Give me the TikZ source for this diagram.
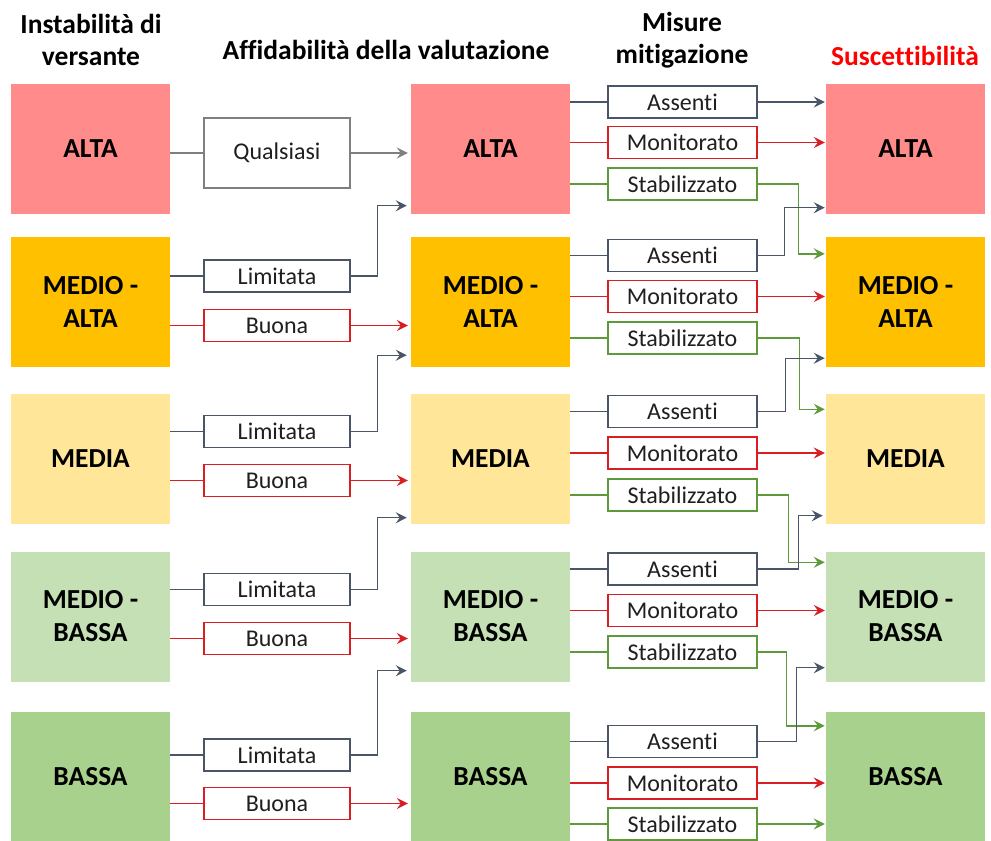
\documentclass[tikz,border=0pt]{standalone}
\usepackage{fontspec}
\setmainfont{Carlito}[Ligatures=NoCommon]
\usetikzlibrary{arrows.meta,calc}
\definecolor{cAlta}{HTML}{FF8B8B}
\definecolor{cMA}{HTML}{FFC000}
\definecolor{cMed}{HTML}{FFE699}
\definecolor{cMB}{HTML}{C5E0B4}
\definecolor{cBas}{HTML}{A9D18E}
\definecolor{cGray}{HTML}{7F7F7F}
\definecolor{cSlate}{HTML}{4A5568}
\definecolor{cRed}{HTML}{D81E24}
\definecolor{cGreen}{HTML}{5E9A3C}
\definecolor{cHead}{HTML}{FF0000}
\begin{document}
\begin{tikzpicture}[x=1pt,y=-1pt,
  big/.style={rectangle, minimum width=159pt, minimum height=130pt, inner sep=0pt, align=center, font=\fontsize{27.5}{33}\selectfont\bfseries},
  lab/.style={rectangle, draw, line width=1.3pt, fill=white, minimum width=146pt, minimum height=32pt, inner sep=0pt, text=black!88, font=\fontsize{24}{28}\selectfont},
  mit/.style={lab, minimum width=149pt},
  con/.style={line width=1.4pt},
  arr/.style={con, -{Stealth[length=11pt,width=11pt,inset=4pt]}},
  hdr/.style={align=center, font=\fontsize{27.5}{32}\selectfont\bfseries},
]
\useasboundingbox (0,0) rectangle (991,841);

% headers
\node[hdr] (h1) at (91,40) {Instabilità di\\versante};
\node[hdr] (h2) at (386,50) {Affidabilità della valutazione};
\node[hdr] (h3) at (682,40) {Misure\\mitigazione};
\node[hdr, text=cHead] (h4) at (905,56) {Suscet\kern0pt tibilità};

% column 1
\node[big, fill=cAlta] (i1) at (90.5,148.5) {ALTA};
\node[big, fill=cMA] (i2) at (90.5,302) {MEDIO -\\ALTA};
\node[big, fill=cMed] (i3) at (90.5,458.5) {MEDIA};
\node[big, fill=cMB] (i4) at (90.5,616.5) {MEDIO -\\BASSA};
\node[big, fill=cBas] (i5) at (90.5,777) {BASSA};

% column 3
\node[big, fill=cAlta] (m1) at (490.5,148.5) {ALTA};
\node[big, fill=cMA] (m2) at (490.5,302) {MEDIO -\\ALTA};
\node[big, fill=cMed] (m3) at (490.5,458.5) {MEDIA};
\node[big, fill=cMB] (m4) at (490.5,616.5) {MEDIO -\\BASSA};
\node[big, fill=cBas] (m5) at (490.5,777) {BASSA};

% column 5
\node[big, fill=cAlta] (r1) at (905.5,148.5) {ALTA};
\node[big, fill=cMA] (r2) at (905.5,302) {MEDIO -\\ALTA};
\node[big, fill=cMed] (r3) at (905.5,458.5) {MEDIA};
\node[big, fill=cMB] (r4) at (905.5,616.5) {MEDIO -\\BASSA};
\node[big, fill=cBas] (r5) at (905.5,777) {BASSA};

% column 2 labels
\node[lab, draw=cGray, minimum height=70pt] (q1) at (277,153) {Qualsiasi};
\node[lab, draw=cSlate] (l2) at (277,276) {Limitata};
\node[lab, draw=cRed] (b2) at (277,325.5) {Buona};
\node[lab, draw=cSlate] (l3) at (277,431.5) {Limitata};
\node[lab, draw=cRed] (b3) at (277,480.5) {Buona};
\node[lab, draw=cSlate] (l4) at (277,589.5) {Limitata};
\node[lab, draw=cRed] (b4) at (277,638.5) {Buona};
\node[lab, draw=cSlate] (l5) at (277,755) {Limitata};
\node[lab, draw=cRed] (b5) at (277,803.5) {Buona};

% column 4 labels
\node[mit, draw=cSlate] (a1) at (682.5,102) {Assenti};
\node[mit, draw=cRed] (n1) at (682.5,142.5) {Monitorato};
\node[mit, draw=cGreen] (s1) at (682.5,184) {Stabilizzato};
\node[mit, draw=cSlate] (a2) at (682.5,255.5) {Assenti};
\node[mit, draw=cRed] (n2) at (682.5,296.5) {Monitorato};
\node[mit, draw=cGreen] (s2) at (682.5,338) {Stabilizzato};
\node[mit, draw=cSlate] (a3) at (682.5,411.5) {Assenti};
\node[mit, draw=cRed] (n3) at (682.5,453) {Monitorato};
\node[mit, draw=cGreen] (s3) at (682.5,495) {Stabilizzato};
\node[mit, draw=cSlate] (a4) at (682.5,569) {Assenti};
\node[mit, draw=cRed] (n4) at (682.5,610.5) {Monitorato};
\node[mit, draw=cGreen] (s4) at (682.5,652) {Stabilizzato};
\node[mit, draw=cSlate] (a5) at (682.5,741.5) {Assenti};
\node[mit, draw=cRed] (n5) at (682.5,783) {Monitorato};
\node[mit, draw=cGreen] (s5) at (682.5,824) {Stabilizzato};

% target coordinates
\coordinate (t1) at ($(m1.south west)+(0,-8)$);
\coordinate (t2) at ($(m2.south west)+(0,-12)$);
\coordinate (t3) at ($(m3.south west)+(0,-6)$);
\coordinate (t4) at ($(m4.south west)+(0,-11)$);
\coordinate (u1) at ($(r1.south west)+(0,-6)$);
\coordinate (u2) at ($(r2.south west)+(0,-9)$);
\coordinate (u3) at ($(r3.south west)+(0,-8)$);
\coordinate (u4) at ($(r4.south west)+(0,-14)$);
\coordinate (g2) at ($(r2.north west)+(0,17)$);
\coordinate (g3) at ($(r3.north west)+(0,16)$);
\coordinate (g4) at ($(r4.north west)+(0,11)$);
\coordinate (g5) at ($(r5.north west)+(0,14)$);

% left connectors
\draw[con, cGray] (i1.east |- q1) -- (q1.west);
\draw[arr, cGray, shorten >=3pt] (q1.east) -- (q1.east -| m1.west);
\foreach \k/\t in {2/1,3/2,4/3,5/4}{
  \draw[con, cSlate] (i\k.east |- l\k) -- (l\k.west);
  \draw[arr, cSlate, shorten >=4pt] (l\k.east) -- ++(27,0) |- (t\t);
  \draw[con, cRed] (i\k.east |- b\k) -- (b\k.west);
  \draw[arr, cRed, shorten >=3pt] (b\k.east) -- (b\k.east -| m\k.west);
}

% right connectors
\foreach \k in {1,...,5}{
  \draw[con, cSlate] (m\k.east |- a\k) -- (a\k.west);
  \draw[con, cRed] (m\k.east |- n\k) -- (n\k.west);
  \draw[con, cGreen] (m\k.east |- s\k) -- (s\k.west);
  \draw[arr, cRed, shorten >=1pt] (n\k.east) -- (n\k.east -| r\k.west);
}
\draw[arr, cSlate, shorten >=1pt] (a1.east) -- (a1.east -| r1.west);
\draw[arr, cGreen, shorten >=1pt] (s5.east) -- (s5.east -| r5.west);
\draw[arr, cGreen, shorten >=1pt] (s1.east) -- ++(41,0) |- (g2);
\draw[arr, cGreen, shorten >=1pt] (s2.east) -- ++(42,0) |- (g3);
\draw[arr, cGreen, shorten >=1pt] (s3.east) -- ++(31,0) |- (g4);
\draw[arr, cGreen, shorten >=1pt] (s4.east) -- ++(29,0) |- (g5);
\draw[arr, cSlate, shorten >=1pt] (a2.east) -- ++(27,0) |- (u1);
\draw[arr, cSlate, shorten >=1pt] (a3.east) -- ++(28,0) |- (u2);
\draw[arr, cSlate, shorten >=3pt] (a4.east) -- ++(41,0) |- (u3);
\draw[arr, cSlate, shorten >=1pt] (a5.east) -- ++(39,0) |- (u4);
\end{tikzpicture}
\end{document}
